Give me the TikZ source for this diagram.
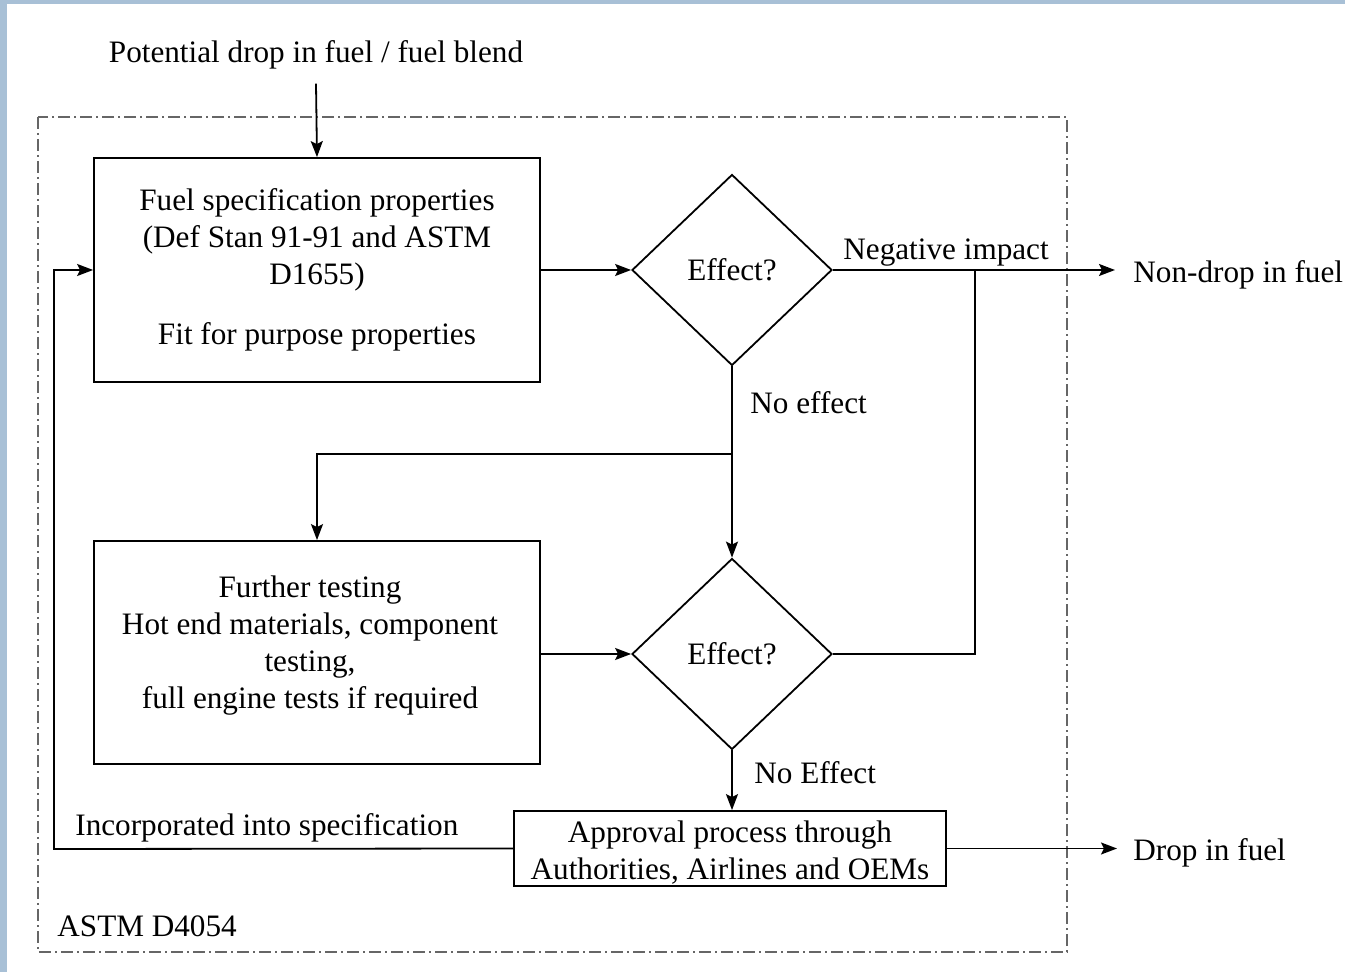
\documentclass[tikz,border=0pt]{standalone}
\usepackage{fontspec}
\setmainfont{Liberation Serif}
\usetikzlibrary{shapes.geometric,arrows.meta}
\definecolor{stripcol}{RGB}{168,192,214}
\begin{document}
\begin{tikzpicture}[x=0.5pt,y=-0.5pt,
  every node/.style={font=\fontsize{15.6}{18.5}\selectfont},
  box/.style={draw, line width=0.9pt, align=center, inner sep=0pt},
  boxtext/.style={align=center, inner sep=0pt},
  dec/.style={draw, diamond, line width=0.9pt, minimum width=100pt, minimum height=95.5pt, inner sep=0pt},
  conn/.style={line width=0.9pt},
  arr/.style={conn, -{Stealth[length=8pt,width=6pt,inset=1.5pt]}},
  lbl/.style={inner sep=0pt},
  frame/.style={draw=black!60, line width=0.7pt, dash pattern=on 6pt off 2pt on 1pt off 2pt}
]
\useasboundingbox (0,0) rectangle (1345,972);
\fill[stripcol] (0,0) rectangle (7,972);
\fill[stripcol] (0,0) rectangle (1345,4);
\draw[frame] (38,117) rectangle (1067,952);

\node[lbl] (src) at (316,55) {Potential drop in fuel / fuel blend};
\node[box, minimum width=223pt, minimum height=112pt] (b1) at (317,270)
  {Fuel specification properties\\(Def Stan 91-91 and ASTM\\D1655)\\[11.5pt]Fit for purpose properties};
\node[dec] (d1) at (732,270) {\raisebox{-1pt}{Effect?}};
\node[dec] (d2) at (732,654) {\raisebox{-1pt}{Effect?}};
\node[box, minimum width=223pt, minimum height=111.5pt] (b2) at (317,652.5) {};
\node[boxtext] (b2t) at (310,646)
  {Further testing\\Hot end materials, component\\testing,\\full engine tests if required};
\node[box, minimum width=216pt, minimum height=37.5pt] (b3) at (730,848.5) {};
\node[boxtext] (b3t) at (730,853)
  {Approval process through\\Authorities, Airlines and OEMs};
\node[lbl, anchor=west] (nd) at (1133,275) {Non-drop in fuel};
\node[lbl, anchor=west] (df) at (1133,853) {Drop in fuel};
\node[lbl, anchor=west] (astm) at (57,926) {ASTM D4054};
\node[lbl, anchor=west] (neg) at (843,253) {Negative impact};
\node[lbl, anchor=west] (ne1) at (750,403) {No effect};
\node[lbl, anchor=west] (ne2) at (754,773) {No Effect};
\node[lbl, anchor=west] (inc) at (75,828) {Incorporated into specification};

\coordinate (j1) at (975,270);
\coordinate (j2) at (732,454);
\coordinate (lb) at (54,849);

\draw[arr] ([yshift=-7pt]src.south) -- (b1.north);
\draw[arr] (b1.east) -- (d1.west);
\draw[arr, shorten >=9pt] (d1.east) -- (d1.east -| nd.west);
\draw[conn] (d2.east) -| (j1);
\draw[arr] (d1.south) -- (d2.north);
\draw[arr] (j2) -| (b2.north);
\draw[arr] (d2.west -| b2.east) -- (d2.west);
\draw[arr] (d2.south) -- (d2.south |- b3.north);
\draw[arr, shorten >=8pt] (b3.east) -- (b3.east -| df.west);
\draw[arr] (b3.west) -- (lb) |- (b1.west);
\end{tikzpicture}
\end{document}
